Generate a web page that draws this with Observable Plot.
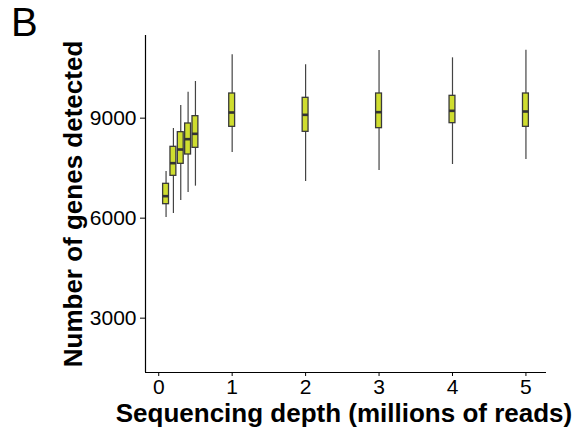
<!DOCTYPE html>
<html>
<head>
<meta charset="utf-8">
<script src="https://cdn.jsdelivr.net/npm/d3@7"></script>
<script src="https://cdn.jsdelivr.net/npm/@observablehq/plot@0.6"></script>
<style>
  html, body { margin: 0; padding: 0; background: #fff; }
  #wrap { position: relative; width: 580px; height: 432px; }
  #panel { position: absolute; left: 11px; top: 2px; font: 40px "Liberation Sans", Arial, Helvetica, sans-serif; color: #000; line-height: 1; }
</style>
</head>
<body>
<div id="wrap"><div id="panel">B</div></div>
<script>
// Sequencing depth (millions of reads) for each subsample
const depth = [0.1, 0.2, 0.3, 0.4, 0.5, 1, 2, 3, 4, 5];
// Box-plot summaries of genes detected per cell
const whiskerLow  = [6020, 6140, 6530, 6770, 6960, 7970, 7100, 7430, 7610, 7760];
const q1          = [6420, 7270, 7630, 7910, 8110, 8740, 8590, 8700, 8850, 8740];
const median      = [6660, 7650, 8060, 8370, 8530, 9170, 9100, 9180, 9220, 9200];
const q3          = [7030, 8140, 8580, 8840, 9060, 9740, 9610, 9740, 9670, 9740];
const whiskerHigh = [7400, 8690, 9380, 9780, 10100, 10900, 10600, 11030, 10810, 11040];

const xTicks = [0, 1, 2, 3, 4, 5];
const yTicks = [3000, 6000, 9000];
const xDomain = [-0.18, 5.28];
const yDomain = [1370, 11480];

const boxes = depth.map((d, i) => ({
  depth: d, lo: whiskerLow[i], q1: q1[i], med: median[i], q3: q3[i], hi: whiskerHigh[i]
}));

const half = 0.04; // half box width, in x units
const font = '"Liberation Sans", Arial, Helvetica, sans-serif';

const chart = Plot.plot({
  width: 580,
  height: 432,
  marginLeft: 145,
  marginRight: 34,
  marginTop: 35,
  marginBottom: 60,
  style: { fontFamily: font, background: "#fff", color: "#000", overflow: "visible" },
  x: { domain: xDomain },
  y: { domain: yDomain },
  marks: [
    Plot.ruleX(boxes, { x: "depth", y1: "lo", y2: "hi", stroke: "#444", strokeWidth: 1.2 }),
    Plot.rect(boxes, {
      x1: d => d.depth - half, x2: d => d.depth + half,
      y1: "q1", y2: "q3",
      fill: "#cfdd2f", stroke: "#3a3a3a", strokeWidth: 1.3
    }),
    Plot.ruleY(boxes, {
      y: "med", x1: d => d.depth - half, x2: d => d.depth + half,
      stroke: "#333", strokeWidth: 2.6
    }),
    Plot.ruleX([xDomain[0]], { stroke: "#000", strokeWidth: 1.2 }),
    Plot.ruleY([yDomain[0]], { stroke: "#000", strokeWidth: 1.2 }),
    Plot.axisX({ ticks: xTicks, tickFormat: d3.format("d"), tickSize: 4, tickPadding: 3, fontSize: 21, label: null }),
    Plot.axisY({ ticks: yTicks, tickFormat: d3.format("d"), tickSize: 5, tickPadding: 4, fontSize: 21, label: null }),
    Plot.text(["Sequencing depth (millions of reads)"], {
      frameAnchor: "bottom", textAnchor: "middle", lineAnchor: "middle", dx: -2, dy: 41,
      fontSize: 26, fontWeight: "bold", fill: "#000"
    }),
    Plot.text(["Number of genes detected"], {
      frameAnchor: "left", textAnchor: "middle", lineAnchor: "middle", dx: -72, rotate: -90,
      fontSize: 26, fontWeight: "bold", fill: "#000"
    })
  ]
});

document.getElementById("wrap").appendChild(chart);
</script>
</body>
</html>
